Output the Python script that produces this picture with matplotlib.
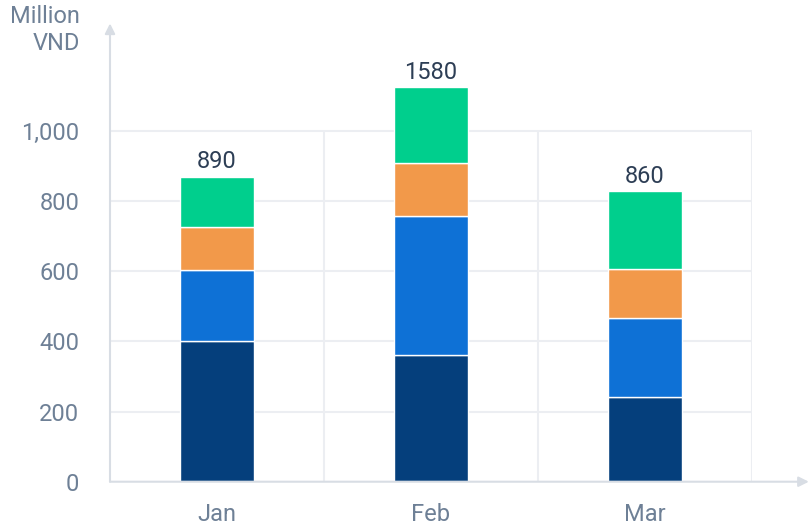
import matplotlib.pyplot as plt
import numpy as np

plt.rcParams['font.family'] = ['Roboto', 'DejaVu Sans']

months = ["Jan", "Feb", "Mar"]
totals = ["890", "1580", "860"]
navy = [400, 361, 241]
blue = [202, 395, 224]
orange = [123, 151, 140]
green = [144, 217, 223]

colors = ["#053f7c", "#0e71d6", "#f2994a", "#00cf8d"]
axis_col = "#d8dde4"
grid_col = "#eceef2"
tick_col = "#6e8096"

fig = plt.figure(figsize=(8.1, 5.3), dpi=100)
ax = fig.add_axes([0.1358, 0.0911, 0.7926, 0.8544])

x = np.arange(len(months))
bottom = np.zeros(len(months))
for vals, c in zip([navy, blue, orange, green], colors):
    ax.bar(x, vals, width=0.345, bottom=bottom, color=c,
           edgecolor="white", linewidth=1, zorder=3)
    bottom += np.array(vals)

for xi, top, lab in zip(x, bottom, totals):
    ax.text(xi, top + 10, lab, ha="center", va="bottom",
            fontsize=17, color="#2d3e55", zorder=4)

ax.set_xlim(-0.5, 2.5)
ax.set_ylim(0, 1290)

# grid
for yv in [200, 400, 600, 800, 1000]:
    ax.plot([-0.5, 2.5], [yv, yv], color=grid_col, lw=1.5, zorder=1)
ax.vlines([0.5, 1.5, 2.5], 0, 1000, color=grid_col, lw=1.5, zorder=1)

for s in ax.spines.values():
    s.set_visible(False)

# axes with arrows
ax.annotate("", xy=(0, 1.012), xytext=(0, 0), xycoords="axes fraction",
            arrowprops=dict(arrowstyle="-|>,head_length=0.6,head_width=0.3",
                            color=axis_col, lw=1.5, shrinkA=0, shrinkB=0),
            annotation_clip=False)
ax.annotate("", xy=(1.0885, 0), xytext=(0, 0), xycoords="axes fraction",
            arrowprops=dict(arrowstyle="-|>,head_length=0.6,head_width=0.3",
                            color=axis_col, lw=1.5, shrinkA=0, shrinkB=0),
            annotation_clip=False)

ax.set_yticks([0, 200, 400, 600, 800, 1000])
ax.set_yticklabels(["0", "200", "400", "600", "800", "1,000"])
ax.set_xticks(x)
ax.set_xticklabels(months)
ax.tick_params(axis="y", length=0, pad=22, labelsize=17, labelcolor=tick_col)
ax.tick_params(axis="x", length=0, pad=15, labelsize=17, labelcolor=tick_col)

fig.text(80 / 810, 1 - 30 / 530, "Million\nVND", ha="right", va="center",
         fontsize=17, color=tick_col, linespacing=1.25)

fig.savefig("out.png", dpi=100)
